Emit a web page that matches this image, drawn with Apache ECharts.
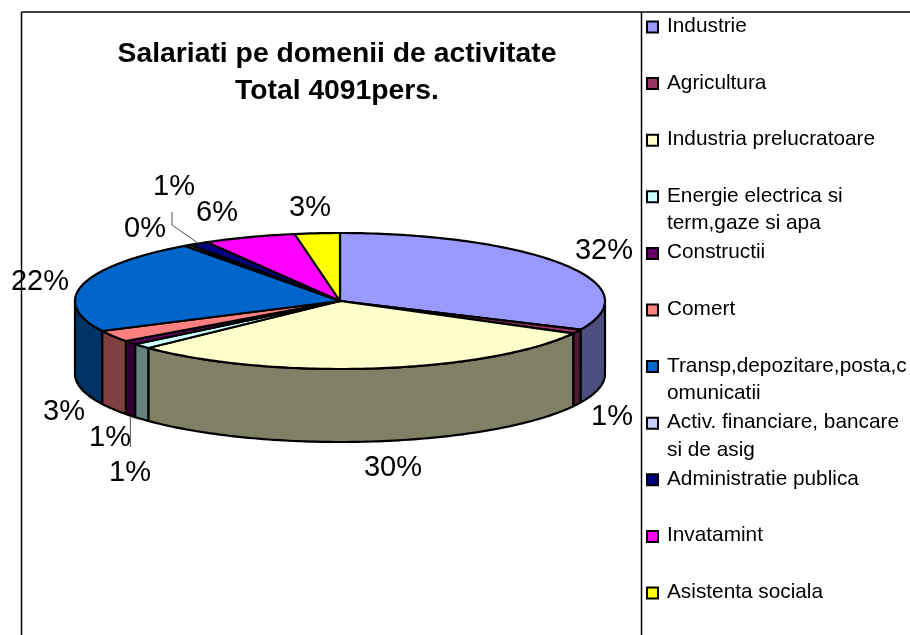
<!DOCTYPE html>
<html>
<head>
<meta charset="utf-8">
<style>
  html, body { margin: 0; padding: 0; background: #fff; }
  #main { width: 910px; height: 635px; }
</style>
<script src="https://cdn.jsdelivr.net/npm/echarts@6/dist/echarts.min.js"></script>
</head>
<body>
<div id="main"></div>
<script>
// values (persons, total 4091)
const categories = [
  'Industrie', 'Agricultura', 'Industria prelucratoare',
  'Energie electrica si\nterm,gaze si apa', 'Constructii', 'Comert',
  'Transp,depozitare,posta,c\nomunicatii', 'Activ. financiare, bancare\nsi de asig',
  'Administratie publica', 'Invatamint', 'Asistenta sociala'
];
const values = [1305, 40, 1227, 49, 37, 113, 913, 16, 49, 230, 112];
const colors = ['#9999FF', '#993366', '#FFFFCC', '#CCFFFF', '#660066', '#FF8080',
  '#0066CC', '#CCCCFF', '#000080', '#FF00FF', '#FFFF00'];
const titleLines = ['Salariati pe domenii de activitate', 'Total 4091pers.'];

// label centres, set by hand like the original chart
const labelPos = [[604, 251], [612, 417], [393, 468], [130, 473], [110, 438], [64, 412],
  [40, 282], [145, 229], [174, 187], [217, 213], [310, 208]];

const pie = { cx: 340, cy: 301, rx: 265, ry: 68, depth: 73 };
const total = values.reduce((a, b) => a + b, 0);

let acc = 0;
const slices = values.map(v => {
  const start = acc / total * Math.PI * 2;
  acc += v;
  return { start, end: acc / total * Math.PI * 2 };
});

// angle counted clockwise from the top of the pie
function rimPoint(a, dy) {
  return [pie.cx + pie.rx * Math.sin(a), pie.cy - pie.ry * Math.cos(a) + (dy || 0)];
}

function arcPoints(a0, a1, dy) {
  const n = Math.max(2, Math.ceil((a1 - a0) / 0.02));
  const pts = [];
  for (let k = 0; k <= n; k++) pts.push(rimPoint(a0 + (a1 - a0) * k / n, dy));
  return pts;
}

// side walls are the slice colour at half brightness
function darken(hex) {
  const c = echarts.color.parse(hex);
  return 'rgb(' + Math.round(c[0] / 2) + ',' + Math.round(c[1] / 2) + ',' + Math.round(c[2] / 2) + ')';
}

function renderWall(params, api) {
  const s = slices[params.dataIndex];
  const a0 = Math.max(s.start, Math.PI / 2);
  const a1 = Math.min(s.end, Math.PI * 1.5);
  if (a1 <= a0) return null;
  const pts = arcPoints(a0, a1, 0).concat(arcPoints(a0, a1, pie.depth).reverse());
  return {
    type: 'polygon',
    shape: { points: pts },
    style: { fill: darken(colors[params.dataIndex]), stroke: '#000', lineWidth: 2.2, lineJoin: 'round' }
  };
}

function renderTop(params, api) {
  const s = slices[params.dataIndex];
  const pts = [[pie.cx, pie.cy]].concat(arcPoints(s.start, s.end, 0));
  return {
    type: 'polygon',
    shape: { points: pts },
    style: { fill: colors[params.dataIndex], stroke: '#000', lineWidth: 2.2, lineJoin: 'round' }
  };
}

function renderLabel(params, api) {
  const i = params.dataIndex;
  return {
    type: 'text',
    style: {
      x: labelPos[i][0], y: labelPos[i][1],
      text: Math.round(values[i] / total * 100) + '%',
      fill: '#000', font: '29px "Liberation Sans"',
      align: 'center', verticalAlign: 'middle'
    }
  };
}

// thin leader lines for the two labels pushed away from their slice
function renderLeader(params, api) {
  const i = params.dataIndex;
  const s = slices[i];
  const mid = (s.start + s.end) / 2;
  const back = mid > Math.PI * 1.5;
  const end = rimPoint(mid, back ? 0 : pie.depth);
  const knee = back ? [172, 225] : [end[0], 447];
  const from = back ? [172, 212] : end;
  return {
    type: 'polyline',
    shape: { points: back ? [from, knee, end] : [from, knee] },
    style: { fill: null, stroke: '#555', lineWidth: 1 }
  };
}

const legendRows = [];
categories.forEach((name, i) => {
  const y = 27 + i * 56.6;
  legendRows.push({
    type: 'rect',
    shape: { x: 647, y: y - 5.5, width: 11, height: 11 },
    style: { fill: colors[i], stroke: '#000', lineWidth: 2 }
  });
  legendRows.push({
    type: 'text',
    style: {
      x: 667, y: y - 14.5, text: name, fill: '#000',
      font: '20.8px "Liberation Sans"', lineHeight: 27.5, align: 'left', verticalAlign: 'top'
    }
  });
});

const frame = [
  { type: 'line', shape: { x1: 21.5, y1: 12, x2: 21.5, y2: 635 }, style: { stroke: '#000', lineWidth: 1.5 } },
  { type: 'line', shape: { x1: 21.5, y1: 12, x2: 910, y2: 12 }, style: { stroke: '#000', lineWidth: 1.5 } },
  { type: 'line', shape: { x1: 641.5, y1: 12, x2: 641.5, y2: 635 }, style: { stroke: '#000', lineWidth: 1.5 } }
];

const titleTexts = titleLines.map((line, i) => ({
  type: 'text',
  style: {
    x: 337, y: 54 + i * 37, text: line, fill: '#000',
    font: 'bold 28.3px "Liberation Sans"', align: 'center', verticalAlign: 'middle'
  }
}));

const chart = echarts.init(document.getElementById('main'), null, { renderer: 'canvas' });
chart.setOption({
  animation: false,
  backgroundColor: '#fff',
  graphic: { elements: frame.concat(titleTexts, legendRows) },
  series: [
    { type: 'custom', coordinateSystem: 'none', silent: true, z: 2, data: values, renderItem: renderWall },
    { type: 'custom', coordinateSystem: 'none', silent: true, z: 3, data: values, renderItem: renderTop },
    { type: 'custom', coordinateSystem: 'none', silent: true, z: 4, data: [values[4], values[8]],
      renderItem: (params, api) => renderLeader({ dataIndex: [4, 8][params.dataIndex] }, api) },
    { type: 'custom', coordinateSystem: 'none', silent: true, z: 5, data: values, renderItem: renderLabel }
  ]
});
</script>
</body>
</html>
